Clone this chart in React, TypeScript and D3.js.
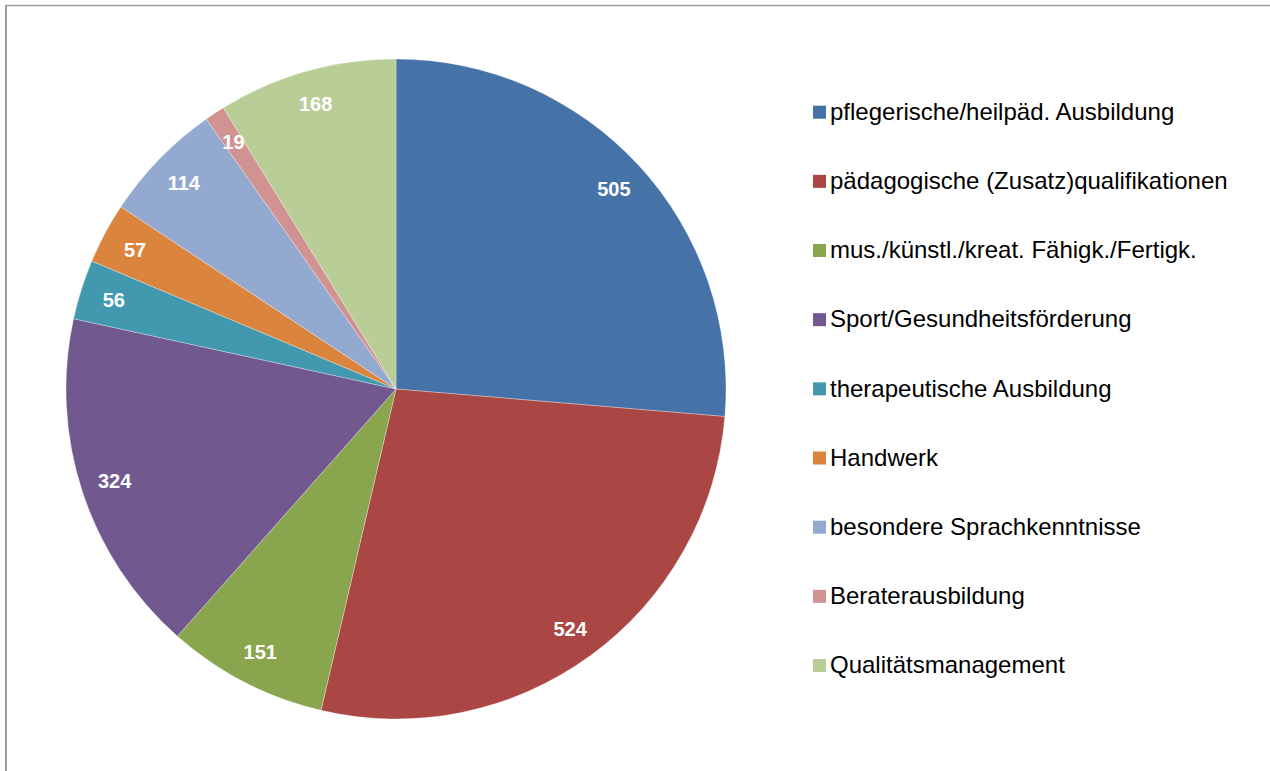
import React from "react";
import * as d3 from "d3";

const categories = [
  "pflegerische/heilpäd. Ausbildung",
  "pädagogische (Zusatz)qualifikationen",
  "mus./künstl./kreat. Fähigk./Fertigk.",
  "Sport/Gesundheitsförderung",
  "therapeutische Ausbildung",
  "Handwerk",
  "besondere Sprachkenntnisse",
  "Beraterausbildung",
  "Qualitätsmanagement",
];
const values = [505, 524, 151, 324, 56, 57, 114, 19, 168];
const colors = [
  "#4572A7",
  "#AA4643",
  "#89A54E",
  "#71588F",
  "#4198AF",
  "#DB843D",
  "#93A9CF",
  "#D19392",
  "#B9CD96",
];

const W = 1270;
const H = 771;
const cx = 396;
const cy = 389;
const R = 330;
const labelR = 296;
const FONT = "'Liberation Sans', Arial, sans-serif";

export default function App() {
  const pie = d3.pie<number>().sort(null).value((d) => d);
  const arcs = pie(values);
  const arc = d3.arc<d3.PieArcDatum<number>>().innerRadius(0).outerRadius(R);
  const labelArc = d3
    .arc<d3.PieArcDatum<number>>()
    .innerRadius(labelR)
    .outerRadius(labelR);

  const legendY = d3
    .scalePoint<number>()
    .domain(d3.range(categories.length))
    .range([120, 673.3]);

  return (
    <div style={{ position: "absolute", left: 0, top: 0 }}>
      <svg width={W} height={H} style={{ display: "block" }}>
        <rect x={0} y={0} width={W} height={H} fill="#fff" />
        <line x1={6} y1={5.5} x2={W} y2={5.5} stroke="#9a9a9a" strokeWidth={1.5} />
        <line x1={6} y1={5} x2={6} y2={H} stroke="#9a9a9a" strokeWidth={2} />
        <g transform={`translate(${cx},${cy})`}>
          {arcs.map((a, i) => (
            <path
              key={i}
              d={arc(a) || ""}
              fill={colors[i]}
              stroke="#ffffff"
              strokeOpacity={0.5}
              strokeWidth={0.6}
            />
          ))}
          {arcs.map((a, i) => {
            const [x, y] = labelArc.centroid(a);
            return (
              <text
                key={i}
                x={x}
                y={y + 7.3}
                textAnchor="middle"
                fill="#ffffff"
                fontFamily={FONT}
                fontWeight="bold"
                fontSize={20}
              >
                {values[i]}
              </text>
            );
          })}
        </g>
        <g>
          {categories.map((c, i) => {
            const y = legendY(i) as number;
            return (
              <g key={i}>
                <rect x={813} y={y - 14.3} width={13} height={13} fill={colors[i]} />
                <text
                  x={830}
                  y={y}
                  fontFamily={FONT}
                  fontSize={24}
                  fill="#000"
                >
                  {c}
                </text>
              </g>
            );
          })}
        </g>
      </svg>
    </div>
  );
}
